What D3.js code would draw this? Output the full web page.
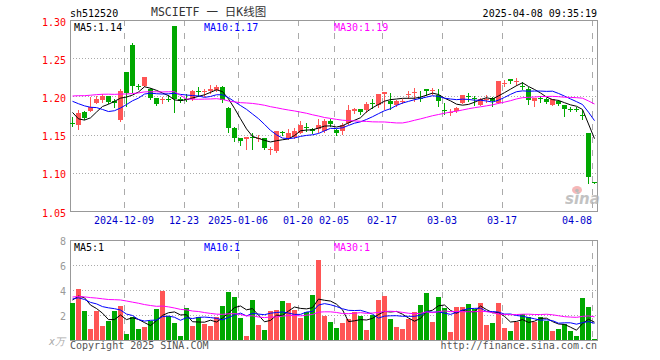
<!DOCTYPE html>
<html>
<head>
<meta charset="utf-8">
<script src="https://cdn.jsdelivr.net/npm/d3@7"></script>
<style>
body { margin: 0; background: #fff; }
svg { display: block; font-family: "DejaVu Sans Mono", monospace; }
</style>
</head>
<body>
<svg id="chart" width="660" height="360"></svg>
<script>
const dates = [
    "2024-11-26","2024-11-27","2024-11-28","2024-11-29","2024-12-02","2024-12-03","2024-12-04","2024-12-05","2024-12-06","2024-12-09",
    "2024-12-10","2024-12-11","2024-12-12","2024-12-13","2024-12-16","2024-12-17","2024-12-18","2024-12-19","2024-12-20","2024-12-23",
    "2024-12-24","2024-12-25","2024-12-26","2024-12-27","2024-12-30","2024-12-31","2025-01-02","2025-01-03","2025-01-06","2025-01-07",
    "2025-01-08","2025-01-09","2025-01-10","2025-01-13","2025-01-14","2025-01-15","2025-01-16","2025-01-17","2025-01-20","2025-01-21",
    "2025-01-22","2025-01-23","2025-01-24","2025-01-27","2025-02-05","2025-02-06","2025-02-07","2025-02-10","2025-02-11","2025-02-12",
    "2025-02-13","2025-02-14","2025-02-17","2025-02-18","2025-02-19","2025-02-20","2025-02-21","2025-02-24","2025-02-25","2025-02-26",
    "2025-02-27","2025-02-28","2025-03-03","2025-03-04","2025-03-05","2025-03-06","2025-03-07","2025-03-10","2025-03-11","2025-03-12",
    "2025-03-13","2025-03-14","2025-03-17","2025-03-18","2025-03-19","2025-03-20","2025-03-21","2025-03-24","2025-03-25","2025-03-26",
    "2025-03-27","2025-03-28","2025-03-31","2025-04-01","2025-04-02","2025-04-03","2025-04-07","2025-04-08"
];

const open = [
    1.165,1.163,1.1796,1.1813,1.1918,1.1953,1.2005,1.1935,1.1691,1.2319,
    1.2677,1.214,1.2136,1.2101,1.1979,1.1955,1.197,1.2921,1.197,1.1962,
    1.1962,1.2075,1.2065,1.207,1.2084,1.2127,1.1852,1.1582,1.1451,1.1438,
    1.1466,1.1455,1.1451,1.1305,1.1285,1.153,1.1451,1.1473,1.1525,1.1597,
    1.1578,1.1569,1.1551,1.1678,1.156,1.1543,1.1647,1.1809,1.1831,1.1822,
    1.1909,1.1883,1.2036,1.1944,1.1887,1.194,1.203,1.2055,1.1975,1.2101,
    1.2075,1.2023,1.1825,1.1792,1.1809,1.1918,1.2,1.1983,1.1892,1.1965,
    1.1979,1.1918,1.217,1.2232,1.219,1.2131,1.2101,1.1944,1.1975,1.197,
    1.1892,1.1944,1.1883,1.1835,1.184,1.1755,1.1516,1.0875
];
const high = [
    1.173,1.182,1.181,1.1988,1.2005,1.2031,1.2008,1.1962,1.2101,1.2322,
    1.2695,1.2162,1.2255,1.211,1.198,1.1997,1.2018,1.2921,1.1988,1.2031,
    1.2084,1.2127,1.21,1.2153,1.2145,1.2131,1.1855,1.1604,1.1455,1.1464,
    1.1525,1.15,1.146,1.1342,1.1551,1.1551,1.157,1.159,1.1673,1.1656,
    1.1586,1.1708,1.1708,1.1708,1.1569,1.1647,1.1883,1.1843,1.1835,1.1927,
    1.1961,1.2031,1.2057,1.204,1.1953,1.197,1.2066,1.211,1.2066,1.2101,
    1.211,1.2101,1.1909,1.183,1.1865,1.2023,1.2049,1.2005,1.1983,1.2014,
    1.1988,1.2197,1.2214,1.2232,1.224,1.2188,1.2127,1.1979,1.2005,1.1979,
    1.197,1.1953,1.1892,1.1865,1.1865,1.1822,1.1516,1.0877
];
const low = [
    1.161,1.157,1.171,1.181,1.1909,1.1927,1.1909,1.1866,1.1682,1.1874,
    1.2062,1.2092,1.213,1.197,1.1892,1.1918,1.1944,1.18,1.1927,1.1935,
    1.1953,1.2005,1.201,1.2049,1.207,1.1927,1.1534,1.1416,1.1364,1.1307,
    1.1307,1.1416,1.1316,1.1242,1.1272,1.1499,1.1438,1.146,1.1517,1.155,
    1.1525,1.1534,1.1534,1.1612,1.15,1.1503,1.1634,1.1778,1.1765,1.1796,
    1.1852,1.1865,1.184,1.184,1.1874,1.1918,1.1979,1.1944,1.1944,1.2014,
    1.203,1.1874,1.1765,1.1752,1.1796,1.191,1.194,1.1883,1.1883,1.1927,
    1.1874,1.191,1.2136,1.218,1.2145,1.2092,1.19,1.1874,1.1927,1.191,
    1.1883,1.1892,1.1743,1.1805,1.1805,1.17,1.0862,1.0865
];
const close = [
    1.164,1.178,1.172,1.1866,1.197,1.2005,1.1927,1.1909,1.2075,1.204,
    1.2136,1.213,1.225,1.198,1.19,1.196,1.196,1.197,1.1935,1.1958,
    1.2071,1.207,1.207,1.2095,1.2127,1.1953,1.159,1.1451,1.1416,1.1464,
    1.146,1.146,1.1324,1.131,1.1543,1.1525,1.1517,1.1543,1.1621,1.159,
    1.1543,1.163,1.1673,1.1634,1.1516,1.163,1.1817,1.184,1.18,1.19,
    1.19,1.2031,1.2057,1.19,1.194,1.1945,1.2035,1.206,1.197,1.207,
    1.208,1.1944,1.182,1.1796,1.1852,1.2014,1.1995,1.1961,1.197,1.197,
    1.1935,1.2197,1.2175,1.2197,1.2197,1.2127,1.1953,1.1979,1.197,1.1927,
    1.1961,1.19,1.183,1.183,1.1835,1.175,1.0949,1.087
];
// volume, 万
const volume = [
    2.99,4.08,2.32,0.88,2.32,1.12,1.52,2.32,2.72,0.48,
    1.84,0.88,1.04,1.52,2.48,3.92,1.95,1.36,0.32,2.56,
    1.12,1.84,1.28,1.12,1.84,2.72,3.84,3.44,1.76,0.32,
    3.2,1.2,0.8,2.32,2.4,3.12,2.96,2.4,1.76,2.21,
    3.6,6.4,1.92,1.44,0.96,1.36,1.68,2.24,1.92,0.8,
    2.0,3.2,3.52,1.68,1.04,0.88,1.68,2.24,2.8,3.76,
    1.44,3.44,2.56,0.64,2.64,2.64,2.88,2.48,2.96,1.2,
    1.36,2.96,0.96,0.72,1.44,2.08,1.84,1.44,1.84,1.52,
    0.72,0.88,1.28,0.72,0.32,3.36,2.64,0.08
];

// 29 sessions before the window, only needed for the moving averages (estimated)
const priorClose = [
    1.165,1.172,1.168,1.175,1.185,1.19,1.198,1.196,1.202,1.195,
    1.188,1.185,1.192,1.193,1.2,1.19,1.193,1.335,1.342,1.215,
    1.21,1.2,1.205,1.201,1.225,1.22,1.18,1.172,1.159
];
const priorVolume = [
    2.8,3.3,2.6,3.5,2.9,3.2,2.7,3.4,2.97,4.6,
    3.5,4.2,3.8,4.4,3.3,3.9,4.1,3.6,3.73,3.9,
    3.1,3.7,3.2,3.5,3.31,2.5,3.0,3.8,3.7
];

const tickDates = ["2024-12-09","2024-12-23","2025-01-06","2025-01-20","2025-02-05","2025-02-17","2025-03-03","2025-03-17","2025-04-08"];
const tickLabels = ["2024-12-09","12-23","2025-01-06","01-20","02-05","02-17","03-03","03-17","04-08"];
const priceTicks = [1.05, 1.10, 1.15, 1.20, 1.25, 1.30];
const volTicks = [2, 4, 6, 8];
const maPeriods = [5, 10, 30];
const maColors = ["#000000", "#0000ff", "#ff00ff"];

const RED = "#ff5555", GREEN = "#00a800", GRID = "#aaaaaa";

const left = 70, right = 598;
const pTop = 20, pBottom = 211;
const vTop = 240, vBottom = 340;

const svg = d3.select("#chart");

const x = d3.scaleBand()
    .domain(dates)
    .range([left, right])
    .paddingInner(1 / 6)
    .paddingOuter(1 / 12)
    .align(0);

const y = d3.scaleLinear().domain([1.05, 1.30]).range([pBottom, pTop]);
const yv = d3.scaleLinear().domain([0, 8]).range([vBottom, vTop]);

function movingAvg(series, prior, n) {
    const all = prior.concat(series);
    const off = prior.length;
    return series.map((v, i) => d3.mean(all.slice(off + i - n + 1, off + i + 1)));
}

const bars = dates.map((d, i) => ({
    date: d, o: open[i], h: high[i], l: low[i], c: close[i], v: volume[i],
    up: close[i] >= open[i]
}));

// ---------- grid & frames ----------
function drawGrid(top, bottom, scale, ticks) {
    svg.append("g")
        .selectAll("line")
        .data(ticks)
        .enter().append("line")
        .attr("x1", left).attr("x2", right)
        .attr("y1", d => Math.round(scale(d)) + 0.5)
        .attr("y2", d => Math.round(scale(d)) + 0.5)
        .attr("stroke", GRID)
        .attr("stroke-dasharray", "1,2")
        .attr("shape-rendering", "crispEdges");

    svg.append("g")
        .selectAll("line")
        .data(tickDates)
        .enter().append("line")
        .attr("x1", d => x(d) + 0.5).attr("x2", d => x(d) + 0.5)
        .attr("y1", top).attr("y2", bottom)
        .attr("stroke", GRID)
        .attr("stroke-dasharray", "6,7")
        .attr("shape-rendering", "crispEdges");

    svg.append("rect")
        .attr("x", left + 0.5).attr("y", top + 0.5)
        .attr("width", right - left - 1).attr("height", bottom - top)
        .attr("fill", "none")
        .attr("stroke", "#999")
        .attr("shape-rendering", "crispEdges");
}

drawGrid(pTop, pBottom, y, [1.10, 1.15, 1.20, 1.25]);
drawGrid(vTop, vBottom, yv, [2, 4, 6]);

// ---------- candles ----------
const candle = svg.append("g").attr("shape-rendering", "crispEdges");

candle.selectAll(".wick")
    .data(bars)
    .enter().append("line")
    .attr("class", "wick")
    .attr("x1", d => x(d.date) + 2.5).attr("x2", d => x(d.date) + 2.5)
    .attr("y1", d => Math.round(y(d.h)))
    .attr("y2", d => Math.round(y(d.l)) + 1)
    .attr("stroke", d => d.up ? RED : GREEN);

candle.selectAll(".body")
    .data(bars)
    .enter().append("rect")
    .attr("class", "body")
    .attr("x", d => Math.round(x(d.date)))
    .attr("y", d => Math.round(y(Math.max(d.o, d.c))))
    .attr("width", x.bandwidth())
    .attr("height", d => Math.max(1, Math.round(y(Math.min(d.o, d.c))) - Math.round(y(Math.max(d.o, d.c)))))
    .attr("fill", d => d.up ? RED : GREEN);

// ---------- volume ----------
svg.append("g")
    .attr("shape-rendering", "crispEdges")
    .selectAll("rect")
    .data(bars)
    .enter().append("rect")
    .attr("x", d => Math.round(x(d.date)))
    .attr("y", d => Math.round(yv(d.v)))
    .attr("width", x.bandwidth())
    .attr("height", d => vBottom - Math.round(yv(d.v)))
    .attr("fill", d => d.up ? RED : GREEN);

// ---------- moving averages ----------
const priceMA = maPeriods.map(n => movingAvg(close, priorClose, n));
const volMA = maPeriods.map(n => movingAvg(volume, priorVolume, n));

function drawMA(series, scale, color) {
    const line = d3.line()
        .x((d, i) => x(dates[i]) + 2.5)
        .y(d => scale(d));
    svg.append("path")
        .datum(series)
        .attr("d", line)
        .attr("fill", "none")
        .attr("stroke", color)
        .attr("stroke-width", 1);
}

priceMA.forEach((s, k) => drawMA(s, y, maColors[k]));
volMA.forEach((s, k) => drawMA(s, yv, maColors[k]));

// ---------- legends ----------
const legendX = [74, 204, 334];
maPeriods.forEach((n, k) => {
    const pm = priceMA[k][priceMA[k].length - 1];
    const vm = volMA[k][volMA[k].length - 1];
    svg.append("text")
        .attr("x", legendX[k]).attr("y", 30.5)
        .attr("font-size", 10)
        .attr("fill", maColors[k])
        .text("MA" + n + ":" + pm.toFixed(2));
    svg.append("text")
        .attr("x", legendX[k]).attr("y", 250.5)
        .attr("font-size", 10)
        .attr("fill", maColors[k])
        .text("MA" + n + ":" + Math.floor(vm));
});

// ---------- axes ----------
const yAxis = svg.append("g")
    .attr("transform", "translate(" + left + ",0)")
    .call(d3.axisLeft(y).tickValues(priceTicks).tickSize(0).tickPadding(4).tickFormat(d3.format(".2f")));
yAxis.select(".domain").remove();
yAxis.selectAll("text")
    .attr("dy", "0.5em")
    .attr("fill", "#ff0000")
    .attr("font-size", 10)
    .attr("font-family", "DejaVu Sans Mono, monospace");

const vAxis = svg.append("g")
    .attr("transform", "translate(" + left + ",0)")
    .call(d3.axisLeft(yv).tickValues(volTicks).tickSize(0).tickPadding(4));
vAxis.select(".domain").remove();
vAxis.selectAll("text")
    .attr("dy", "0.45em")
    .attr("fill", "#999")
    .attr("font-size", 10)
    .attr("font-family", "DejaVu Sans Mono, monospace");

svg.append("text")
    .attr("x", 49).attr("y", 345)
    .attr("font-size", 10)
    .attr("fill", "#aaa")
    .attr("font-style", "italic")
    .text("x万");

svg.append("g")
    .selectAll("text")
    .data(tickDates)
    .enter().append("text")
    .attr("x", d => x(d))
    .attr("y", 224)
    .attr("font-size", 10)
    .attr("fill", "#0000cc")
    .attr("text-anchor", (d, i) => i === tickDates.length - 1 ? "end" : "middle")
    .text((d, i) => tickLabels[i]);

// ---------- titles ----------
svg.append("text")
    .attr("x", 70).attr("y", 16.5)
    .attr("font-size", 10)
    .attr("fill", "#000")
    .text("sh512520");

svg.append("text")
    .attr("x", 151).attr("y", 16)
    .attr("font-size", 11.5)
    .attr("fill", "#333")
    .attr("font-family", "DejaVu Sans Mono, Noto Sans CJK SC, monospace")
    .text("MSCIETF 一 日K线图");

svg.append("text")
    .attr("x", 597).attr("y", 16.5)
    .attr("font-size", 10)
    .attr("text-anchor", "end")
    .attr("fill", "#000")
    .text("2025-04-08 09:35:19");

svg.append("text")
    .attr("x", 70).attr("y", 348.5)
    .attr("font-size", 10)
    .attr("fill", "#555")
    .text("Copyright 2025 SINA.COM");

svg.append("text")
    .attr("x", 597).attr("y", 348.5)
    .attr("font-size", 10)
    .attr("text-anchor", "end")
    .attr("fill", "#555")
    .text("http://finance.sina.com.cn");

// sina watermark
const logo = svg.append("g").attr("opacity", 0.8);
logo.append("ellipse")
    .attr("cx", 577).attr("cy", 190)
    .attr("rx", 5).attr("ry", 4)
    .attr("fill", "#f4a6a6");
logo.append("circle")
    .attr("cx", 577).attr("cy", 190.5)
    .attr("r", 1.8)
    .attr("fill", "#aaa");
logo.append("text")
    .attr("x", 565).attr("y", 204)
    .attr("font-family", "DejaVu Sans, sans-serif")
    .attr("font-size", 15)
    .attr("font-weight", "bold")
    .attr("font-style", "italic")
    .attr("fill", "#b4b4b4")
    .text("sina");
</script>
</body>
</html>
